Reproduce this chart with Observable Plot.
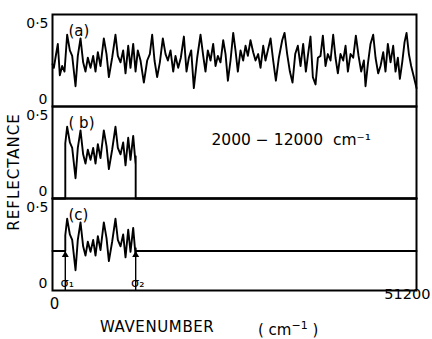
<!DOCTYPE html>
<html><head><meta charset="utf-8">
<script src="https://cdn.jsdelivr.net/npm/d3@7"></script>
<script src="https://cdn.jsdelivr.net/npm/@observablehq/plot@0.6"></script>
<style>
html,body{margin:0;padding:0;background:#fff;}
#wrap{position:relative;width:432px;height:339px;overflow:hidden;font-family:"DejaVu Sans",sans-serif;color:#000;}
#wrap svg{position:absolute;left:0;top:0;}
.lab{position:absolute;white-space:nowrap;font-size:15px;letter-spacing:0.6px;line-height:1;}
.lab sup{font-size:11px;}
</style></head><body>
<div id="wrap">
  <div id="chart"></div>
  <div class="lab" style="left:100px;top:320px;">WAVENUMBER</div>
  <div class="lab" style="left:258px;top:320px;letter-spacing:0;">( cm<sup>−1</sup> )</div>
  <div class="lab" style="left:14px;top:172px;letter-spacing:1px;transform:translate(-50%,-50%) rotate(-90deg);">REFLECTANCE</div>
</div>
<script>
const panelIds = ["a", "b", "c"];
const panelLabels = ["(a)", "( b)", "(c)"];
const xTicks = [0, 51200];
const xTickLabels = ["0", "51200"];
const yTicks = [0, 0.5];
const yTickLabels = ["0", "0·5"];
const rangeNote = "2000 − 12000  cm⁻¹";
const sigma = [1800, 11700];
const sigmaLabels = ["σ₁", "σ₂"];
const edgeValues = [0.30, 0.23];
const meanReflectance = 0.215;

const wavenumber = [0,190,420,750,1030,1360,1690,2060,2440,2770,3240,3560,3940,4310,4640,4970,5350,5720,6050,6380,6750,7220,7600,7930,8390,8860,9190,9570,9940,10270,10650,10970,11350,11680,12000,12380,12850,13320,13690,14020,14350,14720,15100,15520,15900,16230,16600,16980,17300,17680,18050,18480,18850,19180,19510,19880,20350,20820,21200,21520,21850,22230,22600,22930,23260,23630,24010,24340,24670,25040,25420,25740,26070,26450,26820,27150,27480,27850,28230,28560,28930,29260,29640,29960,30290,30670,31040,31420,31840,32310,32640,33010,33390,33760,34140,34510,34890,35260,35640,35920,36290,36620,37000,37330,37700,38030,38400,38730,39110,39480,39810,40140,40510,40890,41220,41550,41920,42300,42670,43050,43420,43800,44030,44360,44730,45110,45440,45810,46140,46520,46840,47170,47550,47920,48250,48580,48860,49190,49520,49800,50130,50450,50830,51200];
const reflectance = [0.23,0.21,0.265,0.34,0.17,0.22,0.19,0.39,0.305,0.275,0.11,0.275,0.37,0.24,0.19,0.265,0.21,0.275,0.19,0.295,0.22,0.37,0.285,0.16,0.265,0.39,0.275,0.24,0.305,0.18,0.33,0.21,0.34,0.19,0.305,0.25,0.13,0.25,0.285,0.39,0.25,0.16,0.24,0.37,0.285,0.25,0.305,0.19,0.275,0.21,0.265,0.38,0.19,0.265,0.305,0.10,0.265,0.39,0.275,0.19,0.305,0.25,0.34,0.22,0.275,0.24,0.36,0.285,0.14,0.25,0.40,0.305,0.19,0.305,0.25,0.33,0.275,0.36,0.295,0.25,0.285,0.21,0.33,0.25,0.305,0.37,0.25,0.14,0.265,0.36,0.40,0.285,0.19,0.13,0.285,0.33,0.22,0.34,0.19,0.275,0.38,0.16,0.12,0.265,0.275,0.385,0.22,0.285,0.25,0.39,0.265,0.18,0.285,0.25,0.33,0.19,0.285,0.265,0.385,0.275,0.19,0.25,0.11,0.23,0.34,0.39,0.265,0.18,0.22,0.295,0.19,0.34,0.24,0.33,0.19,0.265,0.15,0.24,0.35,0.40,0.285,0.22,0.16,0.10];

// panel (a): full spectrum
const seriesA = wavenumber.map((x, i) => ({panel: "a", x, y: reflectance[i]}));
const inside = seriesA.filter(d => d.x > sigma[0] && d.x < sigma[1]);
const xMin = xTicks[0], xMax = xTicks[1];
// panel (b): truncated, zero outside window
const seriesB = [
  {x: xMin, y: 0}, {x: sigma[0], y: 0}, {x: sigma[0], y: edgeValues[0]},
  ...inside.map(d => ({x: d.x, y: d.y})),
  {x: sigma[1], y: edgeValues[1]}, {x: sigma[1], y: 0}, {x: xMax, y: 0}
].map(d => ({...d, panel: "b"}));
// panel (c): window with mean value outside
const seriesC = [
  {x: xMin, y: meanReflectance}, {x: sigma[0], y: meanReflectance}, {x: sigma[0], y: edgeValues[0]},
  ...inside.map(d => ({x: d.x, y: d.y})),
  {x: sigma[1], y: edgeValues[1]}, {x: sigma[1], y: meanReflectance}, {x: xMax, y: meanReflectance}
].map(d => ({...d, panel: "c"}));
const series = [...seriesA, ...seriesB, ...seriesC];

const panelData = panelIds.map((p, i) => ({panel: p, label: panelLabels[i]}));
const sigmaData = sigma.map((s, i) => ({panel: "c", x: s, label: sigmaLabels[i]}));
const font = "DejaVu Sans, sans-serif";

const chart = Plot.plot({
  width: 432,
  height: 339,
  marginTop: 13,
  marginLeft: 52,
  marginRight: 16,
  marginBottom: 49,
  style: {background: "#fff", color: "#000", fontFamily: font},
  x: {domain: [xMin, xMax], axis: null},
  y: {domain: [0, 0.5], axis: null},
  fy: {domain: panelIds, padding: 0, axis: null},
  marks: [
    Plot.line(series, {x: "x", y: "y", fy: "panel", z: "panel", stroke: "black", strokeWidth: 1.9, strokeLinejoin: "round"}),
    Plot.frame({stroke: "black", strokeWidth: 2}),
    // y tick labels (repeated in every panel)
    Plot.text([yTicks[1]], {y: d => d, frameAnchor: "left", dx: -4, dy: 9, textAnchor: "end", text: () => yTickLabels[1], fontSize: 14, fontFamily: font}),
    Plot.text([yTicks[0]], {y: d => d, frameAnchor: "left", dx: -5, dy: -7, textAnchor: "end", text: () => yTickLabels[0], fontSize: 14, fontFamily: font}),
    // panel labels
    Plot.text(panelData, {fy: "panel", text: "label", frameAnchor: "top-left", dx: 16, dy: 11, textAnchor: "start", fontSize: 15, fontFamily: font}),
    // window note
    Plot.text([{panel: "b", label: rangeNote}], {fy: "panel", text: "label", frameAnchor: "top-left", dx: 159, dy: 27, textAnchor: "start", fontSize: 15.5, fontFamily: font}),
    // sigma arrows
    Plot.link(sigmaData, {fy: "panel", x1: "x", x2: "x", y1: 0, y2: meanReflectance, insetStart: 14, stroke: "black", strokeWidth: 1.4}),
    Plot.dot(sigmaData, {fy: "panel", x: "x", y: meanReflectance, symbol: "triangle", r: 2.6, fill: "black", dy: 4}),
    Plot.text(sigmaData, {fy: "panel", x: "x", y: 0, text: "label", dx: 2, dy: -8, fontSize: 13, fontFamily: font}),
    // x tick labels in bottom panel
    Plot.text([{panel: "c", x: xTicks[0], label: xTickLabels[0]}], {fy: "panel", x: "x", frameAnchor: "bottom", text: "label", dx: 2, dy: 18, fontSize: 15, fontFamily: font}),
    Plot.text([{panel: "c", x: xTicks[1], label: xTickLabels[1]}], {fy: "panel", x: "x", frameAnchor: "bottom", text: "label", textAnchor: "end", dx: 14, dy: 8, fontSize: 14.5, fontFamily: font})
  ]
});
document.getElementById("chart").appendChild(chart);
</script>
</body></html>
